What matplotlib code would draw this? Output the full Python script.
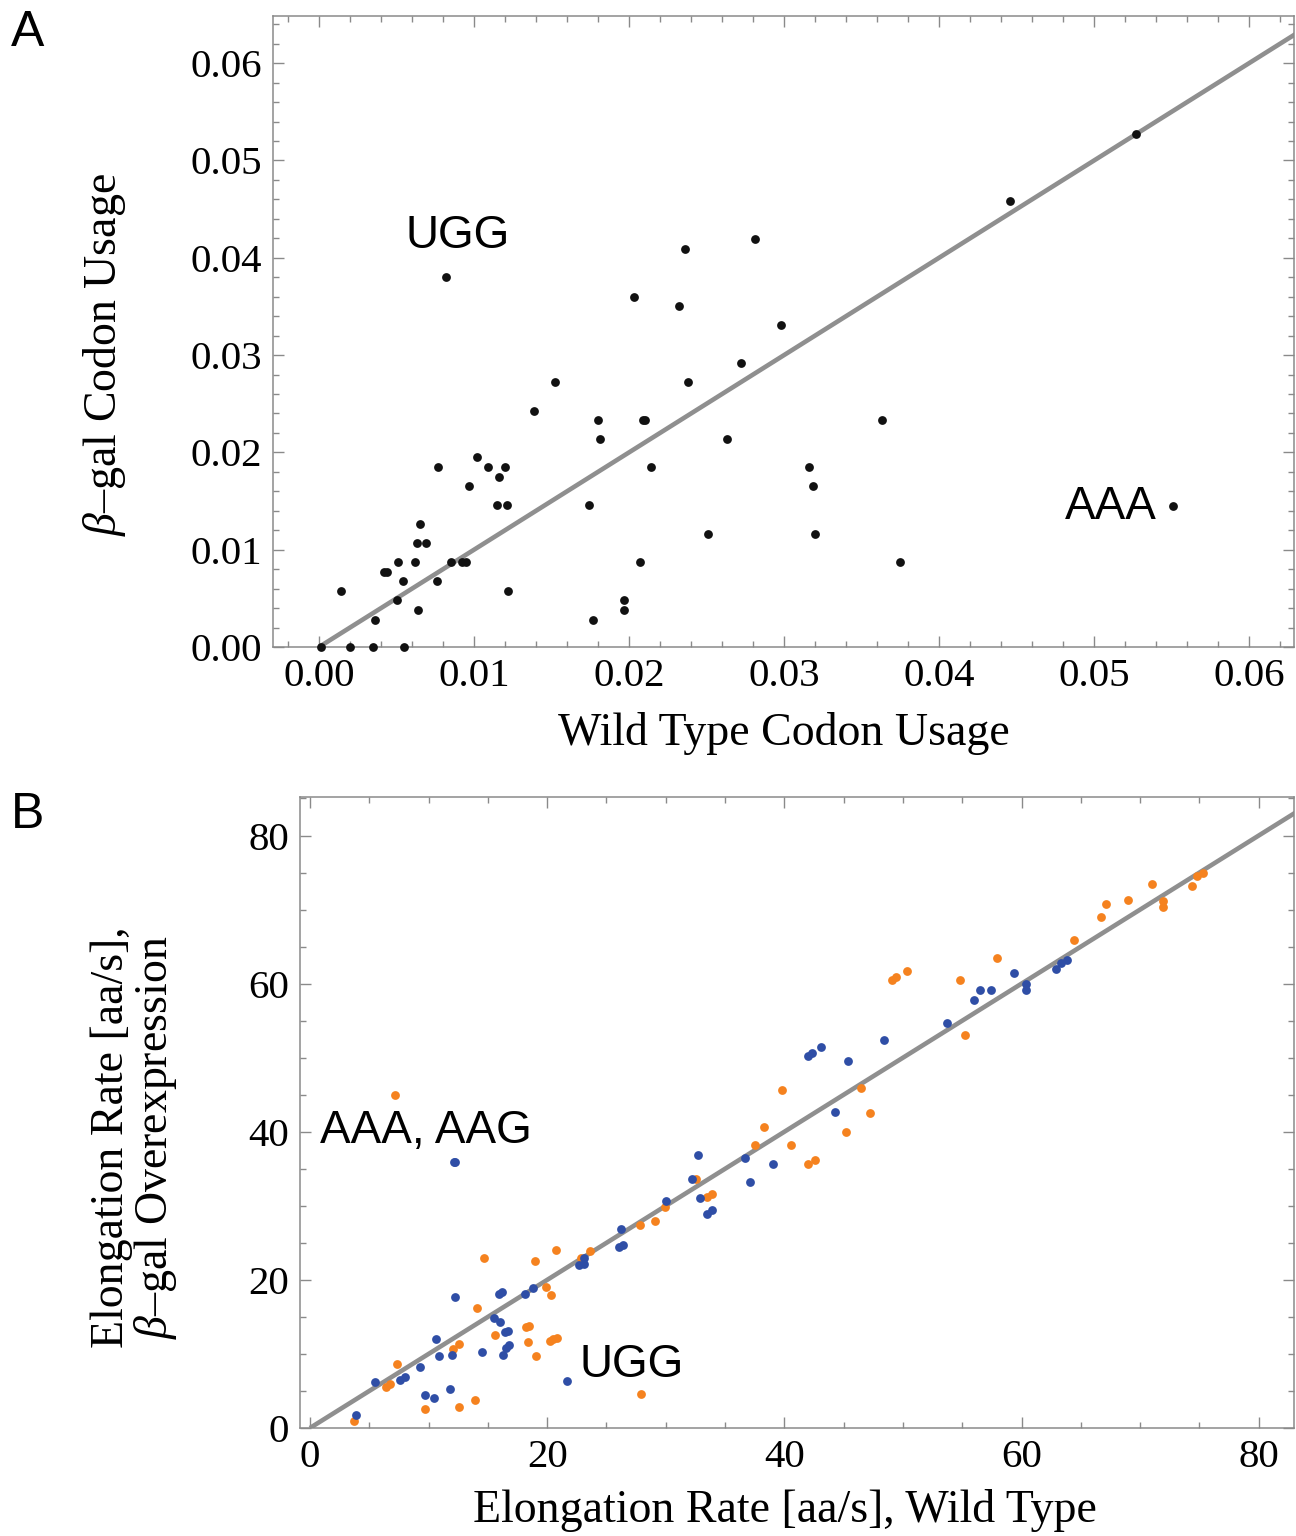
import numpy as np
import matplotlib
matplotlib.use("Agg")
import matplotlib.pyplot as plt
from matplotlib.ticker import MultipleLocator, FormatStrFormatter

plt.rcParams["font.family"] = ["Liberation Serif", "DejaVu Serif"]
plt.rcParams["mathtext.fontset"] = "custom"
plt.rcParams["mathtext.rm"] = "Liberation Serif"
plt.rcParams["mathtext.it"] = "Liberation Serif:italic"

# panel A: codon usage, wild type vs beta-gal
wt_usage = [0.0082, 0.0203, 0.0152, 0.0139, 0.0180, 0.0181, 0.0209, 0.0210, 0.0214,
            0.0174, 0.0077, 0.0102, 0.0109, 0.0116, 0.0120, 0.0097, 0.0115, 0.0121,
            0.0065, 0.0063, 0.0069, 0.0042, 0.0044, 0.0051, 0.0062, 0.0085, 0.0092,
            0.0095, 0.0054, 0.0076, 0.0014, 0.0122, 0.0050, 0.0064, 0.0036, 0.0001,
            0.0020, 0.0035, 0.0055, 0.0207, 0.0197, 0.0197, 0.0177, 0.0236, 0.0281,
            0.0232, 0.0298, 0.0272, 0.0238, 0.0263, 0.0316, 0.0319, 0.0251, 0.0320,
            0.0363, 0.0375, 0.0446, 0.0527, 0.0551]
bgal_usage = [0.0380, 0.0360, 0.0272, 0.0243, 0.0233, 0.0214, 0.0233, 0.0233, 0.0185,
              0.0146, 0.0185, 0.0195, 0.0185, 0.0175, 0.0185, 0.0165, 0.0146, 0.0146,
              0.0126, 0.0107, 0.0107, 0.0077, 0.0077, 0.0087, 0.0087, 0.0087, 0.0087,
              0.0087, 0.0068, 0.0068, 0.0058, 0.0058, 0.0048, 0.0038, 0.0028, 0.0000,
              0.0000, 0.0000, 0.0000, 0.0087, 0.0048, 0.0038, 0.0028, 0.0409, 0.0419,
              0.0350, 0.0331, 0.0292, 0.0272, 0.0214, 0.0185, 0.0165, 0.0116, 0.0116,
              0.0233, 0.0087, 0.0458, 0.0527, 0.0145]

# panel B: elongation rates [aa/s]
orange_wt = [7.14, 3.71, 7.31, 6.41, 6.75, 9.70, 12.54, 13.91, 12.06, 12.54, 14.70, 14.08,
             15.57, 18.97, 20.74, 19.93, 20.32, 18.18, 18.44, 18.35, 19.06, 20.24, 20.52,
             20.80, 27.9, 22.85, 23.6, 27.8, 29.06, 29.9, 32.55, 33.5, 33.9, 37.5, 38.25,
             39.8, 40.6, 42.0, 42.6, 45.2, 46.5, 47.2, 49.1, 49.4, 50.3, 54.8, 55.2, 57.95,
             64.4, 66.7, 67.1, 69.0, 71.0, 71.95, 71.95, 74.4, 74.8, 75.3]
orange_oe = [45.0, 0.95, 8.6, 5.5, 5.9, 2.56, 2.83, 3.82, 10.6, 11.3, 23.0, 16.2,
             12.6, 22.6, 24.0, 19.1, 17.9, 13.6, 13.8, 11.6, 9.7, 11.7, 12.0,
             12.1, 4.6, 23.0, 23.9, 27.4, 27.9, 29.9, 33.6, 31.2, 31.6, 38.2, 40.7,
             45.6, 38.2, 35.7, 36.2, 39.9, 45.9, 42.6, 60.5, 60.9, 61.7, 60.5, 53.0, 63.5,
             65.9, 69.0, 70.7, 71.3, 73.5, 71.2, 70.3, 73.2, 74.6, 74.9]
blue_wt = [12.14, 12.25, 3.91, 5.51, 7.56, 8.0, 9.25, 9.67, 10.43, 10.6, 10.88, 11.83,
           11.97, 12.23, 14.53, 15.54, 15.99, 15.96, 16.21, 16.44, 16.7, 16.27, 16.53,
           16.8, 18.13, 18.83, 21.64, 22.65, 23.08, 23.08, 26.2, 26.08, 26.42, 30.0,
           32.2, 32.7, 32.9, 33.45, 33.9, 36.7, 37.1, 39.0, 42.0, 42.3, 43.1, 44.3, 45.4,
           48.4, 53.7, 55.96, 56.5, 57.45, 59.4, 60.4, 60.4, 62.9, 63.3, 63.8]
blue_oe = [35.9, 35.9, 1.75, 6.25, 6.5, 6.9, 8.3, 4.5, 4.05, 12.0, 9.76, 5.2,
           9.85, 17.7, 10.3, 14.9, 14.3, 18.1, 18.4, 13.0, 13.1, 9.9, 10.8,
           11.2, 18.1, 18.9, 6.3, 22.0, 22.1, 23.0, 26.9, 24.4, 24.7, 30.6,
           33.6, 36.8, 31.0, 28.9, 29.4, 36.4, 33.2, 35.6, 50.2, 50.6, 51.5, 42.7, 49.6,
           52.4, 54.7, 57.8, 59.2, 59.2, 61.5, 59.96, 59.2, 62.0, 62.8, 63.2]

FRAME = "#8a8a8a"
LINE = "#8f8f8f"
ORANGE = "#f5821f"
BLUE = "#2f4ea6"


def style_frame(ax, major, minor, fmt):
    for sp in ax.spines.values():
        sp.set_color(FRAME)
        sp.set_linewidth(1.1)
    ax.xaxis.set_major_locator(MultipleLocator(major))
    ax.xaxis.set_minor_locator(MultipleLocator(minor))
    ax.yaxis.set_major_locator(MultipleLocator(major))
    ax.yaxis.set_minor_locator(MultipleLocator(minor))
    ax.tick_params(which="both", direction="in", top=True, right=True,
                   color=FRAME, width=1.0, labelsize=29.5, pad=8)
    ax.tick_params(which="major", length=8)
    ax.tick_params(which="minor", length=4.5)
    ax.xaxis.set_major_formatter(fmt)
    ax.yaxis.set_major_formatter(fmt)


fig = plt.figure(figsize=(12.96, 15.36), dpi=100)
W, H = 1296, 1536

# ---- panel A
axA = fig.add_axes([273 / W, 1 - 647 / H, (1294 - 273) / W, (647 - 16) / H])
axA.set_xlim(-0.00297, 0.0629)
axA.set_ylim(0, 0.06485)
lim = np.array([0, 0.07])
axA.plot(lim, lim, color=LINE, lw=3.3, solid_capstyle="butt", zorder=2)
axA.scatter(wt_usage, bgal_usage, s=40, color="#111111", zorder=3, clip_on=False,
            linewidths=0)
style_frame(axA, 0.01, 0.002, FormatStrFormatter("%.2f"))
axA.set_xlabel("Wild Type Codon Usage", fontsize=33)
axA.xaxis.set_label_coords(0.5, -0.103)
axA.set_ylabel(r"$\beta$–gal Codon Usage", fontsize=33)
axA.yaxis.set_label_coords(-0.142, 0.463)
axA.text(0.00897, 0.04224, "UGG", family="Liberation Sans", fontsize=33,
         ha="center", va="center")
axA.text(0.0511, 0.01439, "AAA", family="Liberation Sans", fontsize=33,
         ha="center", va="center")

# ---- panel B
axB = fig.add_axes([300 / W, 1 - 1428 / H, (1294 - 300) / W, (1428 - 797) / H])
axB.set_xlim(-0.84, 82.97)
axB.set_ylim(0, 85.2)
limB = np.array([0, 90])
axB.plot(limB, limB, color=LINE, lw=3.3, solid_capstyle="butt", zorder=2)
axB.scatter(orange_wt, orange_oe, s=40, color=ORANGE, zorder=3, linewidths=0)
axB.scatter(blue_wt, blue_oe, s=40, color=BLUE, zorder=3, linewidths=0)
style_frame(axB, 20, 5, FormatStrFormatter("%d"))
axB.set_xlabel("Elongation Rate [aa/s], Wild Type", fontsize=33)
axB.xaxis.set_label_coords(0.488, -0.096)
axB.set_ylabel("Elongation Rate [aa/s],\n" + r"$\beta$–gal Overexpression",
               fontsize=33, linespacing=0.95)
axB.yaxis.set_label_coords(-0.122, 0.461)
axB.text(9.78, 40.1, "AAA, AAG", family="Liberation Sans", fontsize=33,
         ha="center", va="center")
axB.text(27.15, 8.5, "UGG", family="Liberation Sans", fontsize=33,
         ha="center", va="center")

fig.text(28 / W, 1 - 33 / H, "A", family="Liberation Sans", fontsize=36,
         ha="center", va="center")
fig.text(28 / W, 1 - 815 / H, "B", family="Liberation Sans", fontsize=36,
         ha="center", va="center")

fig.savefig("out.png", dpi=100, facecolor="white")
